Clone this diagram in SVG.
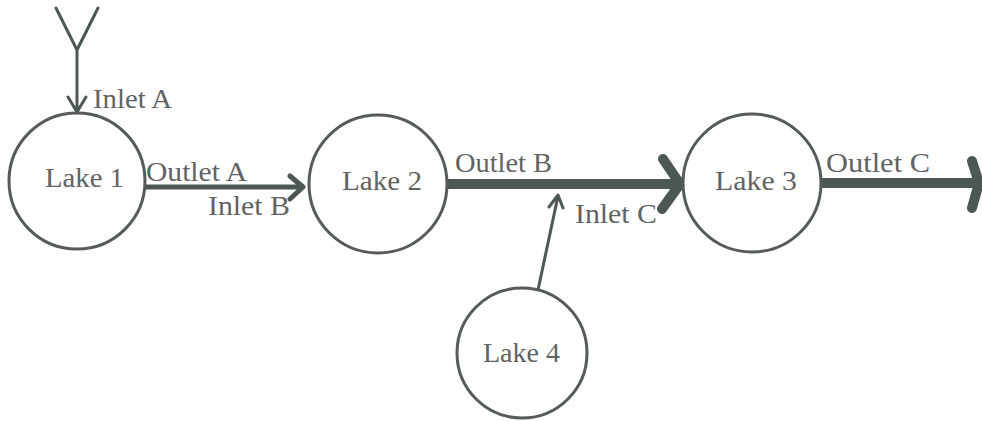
<svg xmlns="http://www.w3.org/2000/svg" width="982" height="421" viewBox="0 0 982 421">
<style>
.lake{fill:#fff;stroke:#555a5a;stroke-width:3}
.t{font-family:"Liberation Serif","Times New Roman",serif;font-size:27px;fill:#5f6363}
.thin{stroke:#4d5756;stroke-width:3;fill:none;stroke-linecap:round;stroke-linejoin:round}
.mid{stroke:#4d5756;stroke-width:5;fill:none;stroke-linecap:round;stroke-linejoin:round}
.thick{stroke:#4d5756;stroke-width:10;fill:none;stroke-linecap:round;stroke-linejoin:round}
</style>
<rect width="982" height="421" fill="#fff"/>
<g id="connectors">
<g id="inletA">
<path class="thin" d="M56 8 L77 50 L98 8 M77 50 L77 112 M68 97 L77 112 L86 97"/>
</g>
<g id="outletA">
<path class="mid" d="M146 187 L302 187 M290 176 L303 187 L290 199"/>
</g>
<g id="outletB">
<path class="thick" d="M448 184 L678 184 M663 159 L680 184 L662 209"/>
</g>
<g id="outletC">
<path class="thick" d="M822 183 L977 183 M972 161 L979 183 L972 208"/>
</g>
<g id="inletC">
<path class="thin" d="M538 290 L558 196 M549 207 L558 195 L563 208"/>
</g>
</g>
<g id="lake1">
<circle class="lake" cx="77" cy="181" r="68"/>
<text class="t" x="45" y="187" textLength="79" lengthAdjust="spacingAndGlyphs">Lake 1</text>
</g>
<g id="lake2">
<circle class="lake" cx="378" cy="184" r="69"/>
<text class="t" x="342" y="190" textLength="80" lengthAdjust="spacingAndGlyphs">Lake 2</text>
</g>
<g id="lake3">
<circle class="lake" cx="752" cy="183" r="69"/>
<text class="t" x="715" y="190" textLength="82" lengthAdjust="spacingAndGlyphs">Lake 3</text>
</g>
<g id="lake4">
<circle class="lake" cx="522" cy="353" r="65"/>
<text class="t" x="483" y="362" textLength="77" lengthAdjust="spacingAndGlyphs">Lake 4</text>
</g>
<g id="labels">
<text class="t" x="93" y="108" textLength="79" lengthAdjust="spacingAndGlyphs">Inlet A</text>
<text class="t" x="146" y="181" textLength="101" lengthAdjust="spacingAndGlyphs">Outlet A</text>
<text class="t" x="208" y="215" textLength="82" lengthAdjust="spacingAndGlyphs">Inlet B</text>
<text class="t" x="455" y="172" textLength="97" lengthAdjust="spacingAndGlyphs">Outlet B</text>
<text class="t" x="575" y="223" textLength="82" lengthAdjust="spacingAndGlyphs">Inlet C</text>
<text class="t" x="826" y="172" textLength="104" lengthAdjust="spacingAndGlyphs">Outlet C</text>
</g>
</svg>
